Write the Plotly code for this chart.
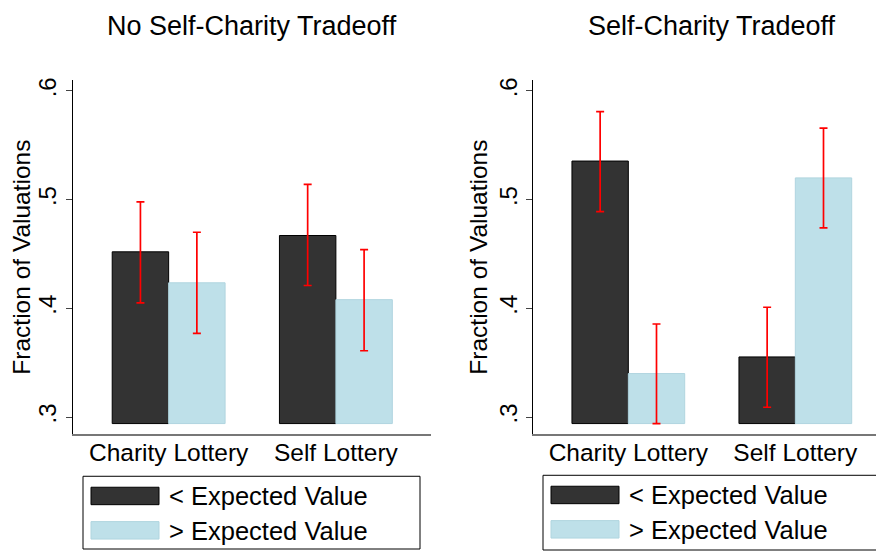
import plotly.graph_objects as go

# The page body adds an 8px margin, so the figure is laid out in
# reference-pixel coordinates shifted by OFF.
OFF = 8
W, H = 884 - OFF, 552 - OFF

categories = ["Charity Lottery", "Self Lottery"]
series_names = ["< Expected Value", "> Expected Value"]
panel_titles = ["No Self-Charity Tradeoff", "Self-Charity Tradeoff"]

# Panel 1: No Self-Charity Tradeoff
p1_below = [0.452, 0.467]
p1_below_lo = [0.405, 0.421]
p1_below_hi = [0.498, 0.514]
p1_above = [0.4235, 0.408]
p1_above_lo = [0.377, 0.361]
p1_above_hi = [0.470, 0.454]

# Panel 2: Self-Charity Tradeoff
p2_below = [0.5355, 0.3553]
p2_below_lo = [0.489, 0.309]
p2_below_hi = [0.581, 0.401]
p2_above = [0.340, 0.520]
p2_above_lo = [0.294, 0.474]
p2_above_hi = [0.3856, 0.5658]

bar_base = 0.294
ytick_vals = [0.3, 0.4, 0.5, 0.6]
ytick_text = [".3", ".4", ".5", ".6"]
y_title = "Fraction of Valuations"

DARK = "#333333"
LIGHT = "#bee0e9"
LIGHT_LINE = "#b0d5df"
FONT = "Liberation Sans, Arial, Helvetica, sans-serif"


def px_x(x):
    return (x - OFF) / W


def px_y(y):
    return 1 - (y - OFF) / H


fig = go.Figure()

panels = [
    (p1_below, p1_below_lo, p1_below_hi, p1_above, p1_above_lo, p1_above_hi, "x", "y"),
    (p2_below, p2_below_lo, p2_below_hi, p2_above, p2_above_lo, p2_above_hi, "x2", "y2"),
]

for (bv, blo, bhi, av, alo, ahi, xa, ya) in panels:
    for vals, lo, hi, color, line_color, name in [
        (bv, blo, bhi, DARK, "#000000", series_names[0]),
        (av, alo, ahi, LIGHT, LIGHT_LINE, series_names[1]),
    ]:
        fig.add_trace(go.Bar(
            x=categories,
            y=[v - bar_base for v in vals],
            base=bar_base,
            name=name,
            marker=dict(color=color, line=dict(color=line_color, width=1)),
            error_y=dict(
                type="data",
                symmetric=False,
                array=[h - v for h, v in zip(hi, vals)],
                arrayminus=[v - l for v, l in zip(vals, lo)],
                color="#ff0000",
                thickness=1.7,
                width=4,
            ),
            xaxis=xa,
            yaxis=ya,
            showlegend=False,
        ))

y_dom = [px_y(434), px_y(78)]
yrange = [0.284, 0.6103]

common_x = dict(
    type="category",
    showline=True, linecolor="#777777", linewidth=2,
    ticks="", showgrid=False, zeroline=False,
    tickfont=dict(family=FONT, size=24.5, color="#000"),
    ticklabelstandoff=-5,
)
common_y = dict(
    range=yrange,
    tickvals=ytick_vals, ticktext=ytick_text,
    tickangle=-90,
    ticks="outside", ticklen=6, tickwidth=1, tickcolor="#444444",
    showline=True, linecolor="#000000", linewidth=1,
    showgrid=False, zeroline=False,
    tickfont=dict(family=FONT, size=24, color="#000"),
    title=dict(text=y_title, font=dict(family=FONT, size=24.5, color="#000"), standoff=0),
    domain=y_dom,
)

fig.update_layout(
    width=W, height=H,
    margin=dict(l=0, r=0, t=0, b=0),
    paper_bgcolor="white", plot_bgcolor="white",
    barmode="group", bargap=0.325, bargroupgap=0,
    xaxis=dict(common_x, domain=[px_x(73), px_x(430.7)], range=[-0.572, 1.567], anchor="y"),
    yaxis=dict(common_y, anchor="x"),
    xaxis2=dict(common_x, domain=[px_x(533.3), 1.0], range=[-0.569, 1.531], anchor="y2"),
    yaxis2=dict(common_y, anchor="x2"),
    showlegend=False,
)

# Panel titles (anchored at the top edge so the text box stays inside the figure)
for title, cx in zip(panel_titles, [251.8, 711.5]):
    fig.add_annotation(
        text=title, x=px_x(cx), y=1.0, xref="paper", yref="paper",
        xanchor="center", yanchor="top", showarrow=False, borderpad=0,
        font=dict(family=FONT, size=27, color="#000"),
    )

# Legends (one per panel), drawn as boxes with swatches and text labels
for box_left, box_right, box_top, box_bottom in [(83, 420, 476, 549), (543, 880, 475, 550)]:
    fig.add_shape(type="rect", xref="paper", yref="paper",
                  x0=px_x(box_left), x1=px_x(box_right), y0=px_y(box_bottom), y1=px_y(box_top),
                  line=dict(color="#000000", width=1), fillcolor="white", layer="below")
    for i, (name, color, lc) in enumerate(zip(series_names, [DARK, LIGHT], ["#000000", LIGHT_LINE])):
        sy0 = box_top + 11 + i * 34.5
        fig.add_shape(type="rect", xref="paper", yref="paper",
                      x0=px_x(box_left + 8), x1=px_x(box_left + 76),
                      y0=px_y(sy0 + 17.5), y1=px_y(sy0),
                      line=dict(color=lc, width=1), fillcolor=color)
        fig.add_annotation(
            text=name, x=px_x(box_left + 84), y=px_y(sy0 + 9), xref="paper", yref="paper",
            xanchor="left", yanchor="middle", showarrow=False,
            font=dict(family=FONT, size=25.5, color="#000"),
        )

fig.write_html("out.html")
